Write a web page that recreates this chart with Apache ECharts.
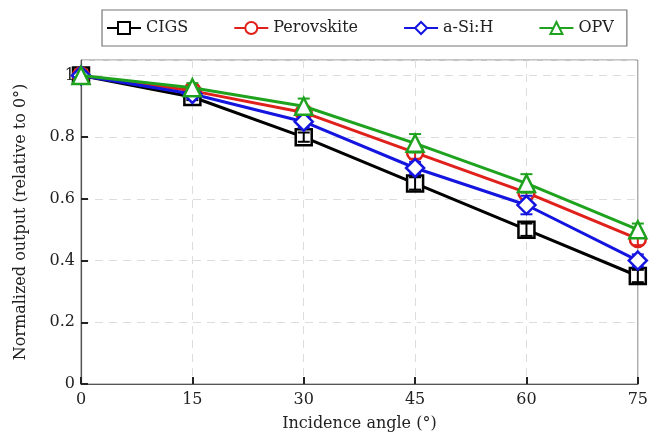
<!DOCTYPE html>
<html>
<head>
<meta charset="utf-8">
<script src="https://cdn.jsdelivr.net/npm/echarts@6/dist/echarts.min.js"></script>
<style>
  html, body { margin: 0; padding: 0; background: #fff; }
  #chart { width: 651px; height: 442px; }
</style>
</head>
<body>
<div id="chart"></div>
<script>
// incidence angles (deg)
const angles = [0, 15, 30, 45, 60, 75];

// normalized output per technology
const cigs = [1.0, 0.93, 0.80, 0.65, 0.50, 0.35];
const perovskite = [1.0, 0.95, 0.88, 0.75, 0.62, 0.47];
const aSiH = [1.0, 0.94, 0.85, 0.70, 0.58, 0.40];
const opv = [1.0, 0.96, 0.90, 0.78, 0.65, 0.50];

// error bar half-widths
const cigsErr = [0.005, 0.01, 0.015, 0.02, 0.02, 0.02];
const perovskiteErr = [0.005, 0.01, 0.015, 0.02, 0.02, 0.02];
const aSiHErr = [0.005, 0.01, 0.02, 0.02, 0.03, 0.02];
const opvErr = [0.005, 0.015, 0.025, 0.03, 0.03, 0.02];

const xTicks = [0, 15, 30, 45, 60, 75];
const yTicks = [0, 0.2, 0.4, 0.6, 0.8, 1];

const font = '"DejaVu Serif", "Liberation Serif", serif';

const seriesDefs = [
  { name: 'CIGS', data: cigs, err: cigsErr, color: '#000000', symbol: 'rect' },
  { name: 'Perovskite', data: perovskite, err: perovskiteErr, color: '#e0201b', symbol: 'circle' },
  { name: 'a-Si:H', data: aSiH, err: aSiHErr, color: '#1515e0', symbol: 'diamond' },
  { name: 'OPV', data: opv, err: opvErr, color: '#1fa31f', symbol: 'triangle' }
];

function pairs(vals) {
  return angles.map((a, i) => [a, vals[i]]);
}

function errorSeries(def) {
  return {
    type: 'custom',
    name: def.name + ' err',
    z: 4,
    silent: true,
    data: angles.map((a, i) => [a, def.data[i] - def.err[i], def.data[i] + def.err[i]]),
    renderItem: function (params, api) {
      const lo = api.coord([api.value(0), api.value(1)]);
      const hi = api.coord([api.value(0), api.value(2)]);
      const w = 6;
      const st = { stroke: def.color, lineWidth: 2 };
      return {
        type: 'group',
        children: [
          { type: 'line', shape: { x1: lo[0], y1: lo[1], x2: hi[0], y2: hi[1] }, style: st },
          { type: 'line', shape: { x1: lo[0] - w, y1: lo[1], x2: lo[0] + w, y2: lo[1] }, style: st },
          { type: 'line', shape: { x1: hi[0] - w, y1: hi[1], x2: hi[0] + w, y2: hi[1] }, style: st }
        ]
      };
    }
  };
}

const chart = echarts.init(document.getElementById('chart'));

const series = [];
seriesDefs.forEach((def, k) => {
  series.push({
    name: def.name,
    type: 'line',
    data: pairs(def.data),
    z: 2 + k,
    symbol: def.symbol,
    symbolSize: def.symbol === 'diamond' ? 18 : (def.symbol === 'triangle' ? 17 : 16),
    showAllSymbol: true,
    lineStyle: { color: def.color, width: 3 },
    itemStyle: { color: '#ffffff', borderColor: def.color, borderWidth: 2.5 },
    emphasis: { disabled: true },
    animation: false
  });
});
seriesDefs.forEach((def) => series.push(errorSeries(def)));

chart.setOption({
  animation: false,
  legend: {
    data: seriesDefs.map(d => d.name),
    top: 10,
    left: 102,
    padding: [10, 13, 10, 4],
    itemGap: 45,
    itemWidth: 34,
    itemHeight: 15,
    borderColor: '#777',
    borderWidth: 1.2,
    textStyle: { fontFamily: font, fontSize: 16, color: '#222' }
  },
  grid: {
    left: 81,
    right: 6,
    top: 60,
    bottom: 58,
    show: true,
    borderColor: '#888',
    borderWidth: 1
  },
  xAxis: {
    type: 'value',
    min: 0,
    max: 75,
    interval: 15,
    name: 'Incidence angle (°)',
    nameLocation: 'middle',
    nameGap: 32,
    nameTextStyle: { fontFamily: font, fontSize: 16, color: '#222' },
    axisLine: { lineStyle: { color: '#555', width: 1.2 } },
    axisTick: { inside: true, length: 7, lineStyle: { color: '#222', width: 2 } },
    axisLabel: {
      margin: 8,
      fontFamily: font,
      fontSize: 16,
      color: '#222',
      formatter: v => xTicks.includes(v) ? String(v) : ''
    },
    splitLine: { show: true, lineStyle: { type: [8, 6], color: '#dddddd', width: 1 } }
  },
  yAxis: {
    type: 'value',
    min: 0,
    max: 1.05,
    interval: 0.2,
    name: 'Normalized output (relative to 0°)',
    nameLocation: 'middle',
    nameGap: 52,
    nameTextStyle: { fontFamily: font, fontSize: 16, color: '#222' },
    axisLine: { show: true, lineStyle: { color: '#555', width: 1.2 } },
    axisTick: { show: true, inside: true, length: 7, lineStyle: { color: '#222', width: 2 } },
    axisLabel: {
      margin: 6,
      fontFamily: font,
      fontSize: 16,
      color: '#222',
      showMaxLabel: false,
      formatter: v => {
        const t = yTicks.find(y => Math.abs(y - v) < 1e-6);
        return t === undefined ? '' : String(t);
      }
    },
    splitLine: { show: true, lineStyle: { type: [8, 6], color: '#dddddd', width: 1 } }
  },
  series: series
});
</script>
</body>
</html>
